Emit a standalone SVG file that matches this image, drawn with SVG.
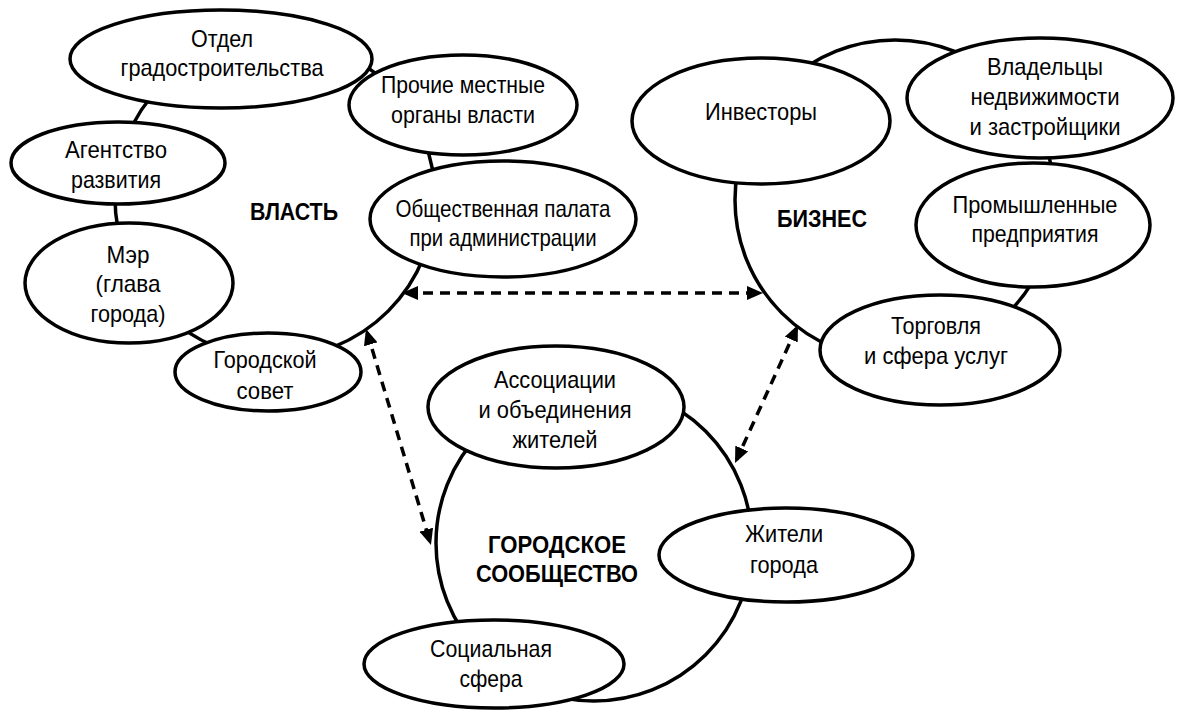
<svg xmlns="http://www.w3.org/2000/svg" width="1178" height="711" viewBox="0 0 1178 711">
<defs>
<style>
.c{fill:#fff;stroke:#000;stroke-width:3.5}
.e{fill:#fff;stroke:#000;stroke-width:3.5}
.t{font-family:"Liberation Sans",Arial,sans-serif;font-size:24px;fill:#000;text-anchor:middle}
.b{font-family:"Liberation Sans",Arial,sans-serif;font-size:24px;font-weight:bold;fill:#000;text-anchor:middle}
.a{fill:none;stroke:#000;stroke-width:3.5;stroke-dasharray:10 7}
</style>
<marker id="ah" viewBox="0 0 16 14" refX="12" refY="7" markerWidth="16" markerHeight="14" markerUnits="userSpaceOnUse" orient="auto-start-reverse">
<path d="M0,0 L16,7 L0,14 z" fill="#000"/>
</marker>
</defs>
<rect width="1178" height="711" fill="#fff"/>

<g id="vlast">
<circle class="c" cx="275" cy="198" r="160"/>
<text class="b" x="294" y="220" textLength="88" lengthAdjust="spacingAndGlyphs">ВЛАСТЬ</text>
</g>
<g id="biznes">
<circle class="c" cx="895" cy="200" r="160"/>
<text class="b" x="822" y="227" textLength="90" lengthAdjust="spacingAndGlyphs">БИЗНЕС</text>
</g>
<g id="soobshchestvo">
<circle class="c" cx="594" cy="543" r="158"/>
<text class="b" x="557" y="553" textLength="138" lengthAdjust="spacingAndGlyphs">ГОРОДСКОЕ</text>
<text class="b" x="557" y="582" textLength="162" lengthAdjust="spacingAndGlyphs">СООБЩЕСТВО</text>
</g>

<g id="otdel">
<ellipse class="e" cx="221" cy="59" rx="151" ry="49"/>
<text class="t" x="222" y="47" textLength="62" lengthAdjust="spacingAndGlyphs">Отдел</text>
<text class="t" x="222" y="76" textLength="203" lengthAdjust="spacingAndGlyphs">градостроительства</text>
</g>
<g id="prochie">
<ellipse class="e" cx="463" cy="105" rx="114" ry="50"/>
<text class="t" x="463" y="93" textLength="164" lengthAdjust="spacingAndGlyphs">Прочие местные</text>
<text class="t" x="463" y="123" textLength="144" lengthAdjust="spacingAndGlyphs">органы власти</text>
</g>
<g id="agentstvo">
<ellipse class="e" cx="118" cy="163" rx="107" ry="41"/>
<text class="t" x="116" y="158" textLength="102" lengthAdjust="spacingAndGlyphs">Агентство</text>
<text class="t" x="116" y="188" textLength="90" lengthAdjust="spacingAndGlyphs">развития</text>
</g>
<g id="palata">
<ellipse class="e" cx="503" cy="219" rx="133" ry="58"/>
<text class="t" x="503" y="217" textLength="215" lengthAdjust="spacingAndGlyphs">Общественная палата</text>
<text class="t" x="503" y="246" textLength="187" lengthAdjust="spacingAndGlyphs">при администрации</text>
</g>
<g id="mer">
<ellipse class="e" cx="129" cy="283" rx="104" ry="60"/>
<text class="t" x="128" y="263" textLength="43" lengthAdjust="spacingAndGlyphs">Мэр</text>
<text class="t" x="128" y="292" textLength="65" lengthAdjust="spacingAndGlyphs">(глава</text>
<text class="t" x="128" y="322" textLength="75" lengthAdjust="spacingAndGlyphs">города)</text>
</g>
<g id="sovet">
<ellipse class="e" cx="268" cy="372" rx="93" ry="39"/>
<text class="t" x="265" y="368" textLength="103" lengthAdjust="spacingAndGlyphs">Городской</text>
<text class="t" x="265" y="399" textLength="57" lengthAdjust="spacingAndGlyphs">совет</text>
</g>

<g id="investory">
<ellipse class="e" cx="761" cy="121" rx="129" ry="63"/>
<text class="t" x="761" y="120" textLength="112" lengthAdjust="spacingAndGlyphs">Инвесторы</text>
</g>
<g id="vladeltsy">
<ellipse class="e" cx="1040" cy="98" rx="133" ry="60"/>
<text class="t" x="1045" y="75" textLength="116" lengthAdjust="spacingAndGlyphs">Владельцы</text>
<text class="t" x="1045" y="105" textLength="149" lengthAdjust="spacingAndGlyphs">недвижимости</text>
<text class="t" x="1045" y="135" textLength="151" lengthAdjust="spacingAndGlyphs">и застройщики</text>
</g>
<g id="promyshlennye">
<ellipse class="e" cx="1033" cy="225" rx="117" ry="62"/>
<text class="t" x="1035" y="213" textLength="165" lengthAdjust="spacingAndGlyphs">Промышленные</text>
<text class="t" x="1035" y="242" textLength="127" lengthAdjust="spacingAndGlyphs">предприятия</text>
</g>
<g id="torgovlya">
<ellipse class="e" cx="940" cy="350" rx="120" ry="55"/>
<text class="t" x="936" y="334" textLength="90" lengthAdjust="spacingAndGlyphs">Торговля</text>
<text class="t" x="936" y="364" textLength="144" lengthAdjust="spacingAndGlyphs">и сфера услуг</text>
</g>

<g id="assotsiatsii">
<ellipse class="e" cx="556" cy="407" rx="128" ry="61"/>
<text class="t" x="555" y="388" textLength="122" lengthAdjust="spacingAndGlyphs">Ассоциации</text>
<text class="t" x="555" y="418" textLength="153" lengthAdjust="spacingAndGlyphs">и объединения</text>
<text class="t" x="555" y="448" textLength="85" lengthAdjust="spacingAndGlyphs">жителей</text>
</g>
<g id="zhiteli">
<ellipse class="e" cx="786" cy="555" rx="127" ry="47"/>
<text class="t" x="784" y="542" textLength="78" lengthAdjust="spacingAndGlyphs">Жители</text>
<text class="t" x="784" y="573" textLength="68" lengthAdjust="spacingAndGlyphs">города</text>
</g>
<g id="sotsialnaya">
<ellipse class="e" cx="494" cy="664" rx="130" ry="44"/>
<text class="t" x="491" y="657" textLength="122" lengthAdjust="spacingAndGlyphs">Социальная</text>
<text class="t" x="491" y="687" textLength="63" lengthAdjust="spacingAndGlyphs">сфера</text>
</g>

<g id="connectors">
<line class="a" x1="406" y1="293" x2="759" y2="293" marker-start="url(#ah)" marker-end="url(#ah)"/>
<line class="a" x1="367.2" y1="332.8" x2="429.8" y2="541.2" marker-start="url(#ah)" marker-end="url(#ah)"/>
<line class="a" x1="796.3" y1="328.6" x2="736.7" y2="459.4" marker-start="url(#ah)" marker-end="url(#ah)"/>
</g>
</svg>
